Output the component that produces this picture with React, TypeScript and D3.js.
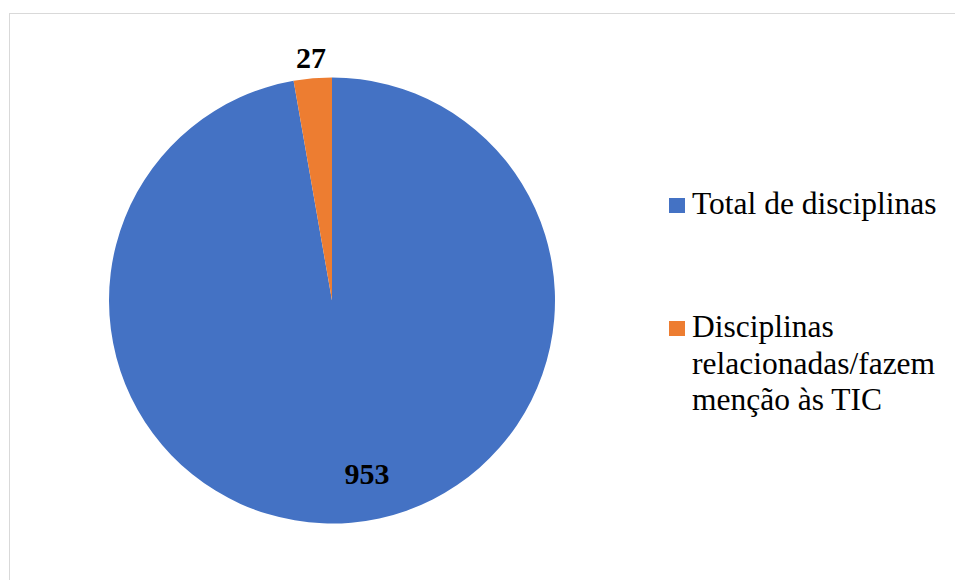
import React from "react";
import * as d3 from "d3";

const categories = ["Total de disciplinas", "Disciplinas relacionadas/fazem menção às TIC"];
const values = [953, 27];
const legendLines = [["Total de disciplinas"], ["Disciplinas", "relacionadas/fazem", "menção às TIC"]];
const colors = ["#4472C4", "#ED7D31"];

const W = 955;
const H = 580;
const cx = 332;
const cy = 300.5;
const R = 223;
const FONT = "Liberation Serif, DejaVu Serif, serif";

export default function App() {
  const pie = d3.pie<number>().sort(null).value((d) => d).startAngle(0).endAngle(2 * Math.PI);
  const arcs = pie(values);
  const arcGen = d3.arc<d3.PieArcDatum<number>>().innerRadius(0).outerRadius(R);

  // label placement: small slice outside, large slice inside (best fit)
  const labelPos = arcs.map((a, i) => {
    const mid = (a.startAngle + a.endAngle) / 2;
    if (i === 1) {
      const rr = R + 20;
      return [cx + rr * Math.sin(mid), cy - rr * Math.cos(mid)];
    }
    const rr = 0.78 * R;
    return [cx + rr * Math.sin(mid) + 20, cy - rr * Math.cos(mid)];
  });

  const legendY = [214, 337];
  const lineH = 36.5;

  return (
    <svg
      width={W}
      height={H}
      style={{ position: "absolute", left: 0, top: 0, background: "#fff" }}
      xmlns="http://www.w3.org/2000/svg"
    >
      <rect x={9.5} y={13.5} width={W + 10} height={H + 10} fill="#fff" stroke="#d9d9d9" strokeWidth={1} />
      <g transform={`translate(${cx},${cy})`}>
        {arcs.map((a, i) => (
          <path key={i} d={arcGen(a) || ""} fill={colors[i]} />
        ))}
      </g>
      {arcs.map((a, i) => (
        <text
          key={"l" + i}
          x={labelPos[i][0]}
          y={labelPos[i][1] + 10}
          textAnchor="middle"
          style={{ fontFamily: FONT }}
          fontWeight="bold"
          fontSize={30}
          fill="#000"
        >
          {values[i]}
        </text>
      ))}
      {categories.map((c, i) => (
        <g key={"lg" + i}>
          <rect x={669} y={legendY[i] - 16} width={16} height={15} fill={colors[i]} />
          <text style={{ fontFamily: FONT }} fontSize={31.5} fill="#000">
            {legendLines[i].map((t, j) => (
              <tspan key={j} x={692} y={legendY[i] + j * lineH}>
                {t}
              </tspan>
            ))}
          </text>
        </g>
      ))}
    </svg>
  );
}
